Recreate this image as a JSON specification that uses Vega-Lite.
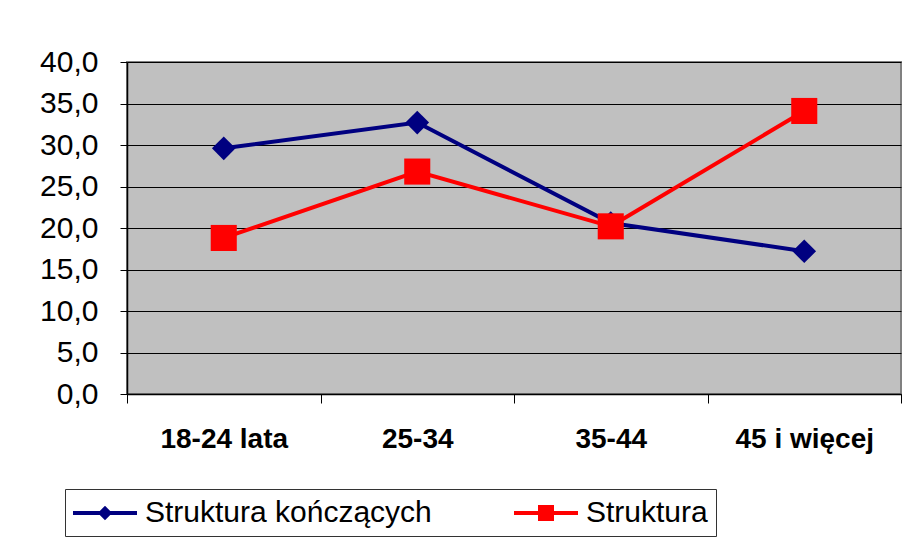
{
  "$schema": "https://vega.github.io/schema/vega-lite/v6.json",
  "width": 774,
  "height": 332,
  "autosize": {"type": "none"},
  "padding": {"left": 127, "top": 62, "right": 9, "bottom": 146},
  "background": "white",
  "data": {
    "values": [
      {"grupa": "18-24 lata", "series": "Struktura kończących", "v": 29.6},
      {"grupa": "25-34", "series": "Struktura kończących", "v": 32.7},
      {"grupa": "35-44", "series": "Struktura kończących", "v": 20.6},
      {"grupa": "45 i więcej", "series": "Struktura kończących", "v": 17.2},
      {"grupa": "18-24 lata", "series": "Struktura", "v": 18.8},
      {"grupa": "25-34", "series": "Struktura", "v": 26.8},
      {"grupa": "35-44", "series": "Struktura", "v": 20.2},
      {"grupa": "45 i więcej", "series": "Struktura", "v": 34.1}
    ]
  },
  "encoding": {
    "x": {
      "field": "grupa", "type": "ordinal", "sort": null,
      "scale": {"type": "band", "paddingInner": 0, "paddingOuter": 0},
      "axis": {
        "title": null, "labelAngle": 0, "tickBand": "extent",
        "labelFont": "Liberation Sans", "labelFontSize": 28, "labelFontWeight": "bold",
        "labelColor": "black", "labelPadding": 22,
        "domainColor": "black", "domainWidth": 1.5, "tickColor": "black", "tickSize": 9, "tickWidth": 1
      }
    },
    "y": {
      "field": "v", "type": "quantitative",
      "scale": {"domain": [0, 40], "nice": false},
      "axis": {
        "title": null, "values": [0, 5, 10, 15, 20, 25, 30, 35, 40],
        "labelExpr": "replace(format(datum.value, '.1f'), '.', ',')",
        "labelFont": "Liberation Sans", "labelFontSize": 30, "labelColor": "black",
        "labelPadding": 22, "tickSize": 7, "tickColor": "black",
        "domainColor": "black", "domainWidth": 1.5,
        "grid": true, "gridColor": "black", "gridWidth": 1.2
      }
    },
    "color": {
      "field": "series", "type": "nominal",
      "scale": {"domain": ["Struktura kończących", "Struktura"], "range": ["#000080", "#FF0000"]},
      "legend": {
        "title": null, "orient": "none", "legendX": -62, "legendY": 427,
        "direction": "horizontal", "columnPadding": 82,
        "labelExpr": "datum.value === 'Struktura' ? datum.label + '\u00a0\u00a0\u00a0\u00a0\u00a0\u00a0\u00a0\u00a0\u00a0\u00a0\u00a0\u00a0\u00a0\u00a0\u00a0\u00a0\u00a0' : datum.label",
        "strokeColor": "#333333", "padding": 8, "fillColor": "white",
        "labelFont": "Liberation Sans", "labelFontSize": 30, "labelColor": "black",
        "labelOffset": 24, "symbolOffset": 16, "labelLimit": 0, "symbolSize": 1024, "symbolStrokeWidth": 0,
        "encode": {
          "symbols": {
            "update": {
              "shape": {"signal": "datum.value === 'Struktura' ? 'M-2,-0.125H2V0.125H-2Z M-0.5,-0.5H0.5V0.5H-0.5Z' : 'M-2,-0.125H2V0.125H-2Z M0,-0.45L0.45,0L0,0.45L-0.45,0Z'"},
              "fill": {"signal": "datum.value === 'Struktura' ? '#FF0000' : '#000080'"},
              "stroke": {"value": "transparent"},
              "strokeWidth": {"value": 0},
              "opacity": {"value": 1}
            }
          }
        }
      }
    }
  },
  "layer": [
    {"mark": {"type": "line", "strokeWidth": 4}},
    {
      "transform": [{"filter": "datum.series === 'Struktura kończących'"}],
      "mark": {"type": "point", "filled": true, "opacity": 1, "shape": "diamond", "size": 560}
    },
    {
      "transform": [{"filter": "datum.series === 'Struktura'"}],
      "mark": {"type": "point", "filled": true, "opacity": 1, "shape": "square", "size": 680}
    }
  ],
  "config": {
    "view": {"fill": "#C0C0C0", "stroke": "#808080", "strokeWidth": 2}
  }
}
